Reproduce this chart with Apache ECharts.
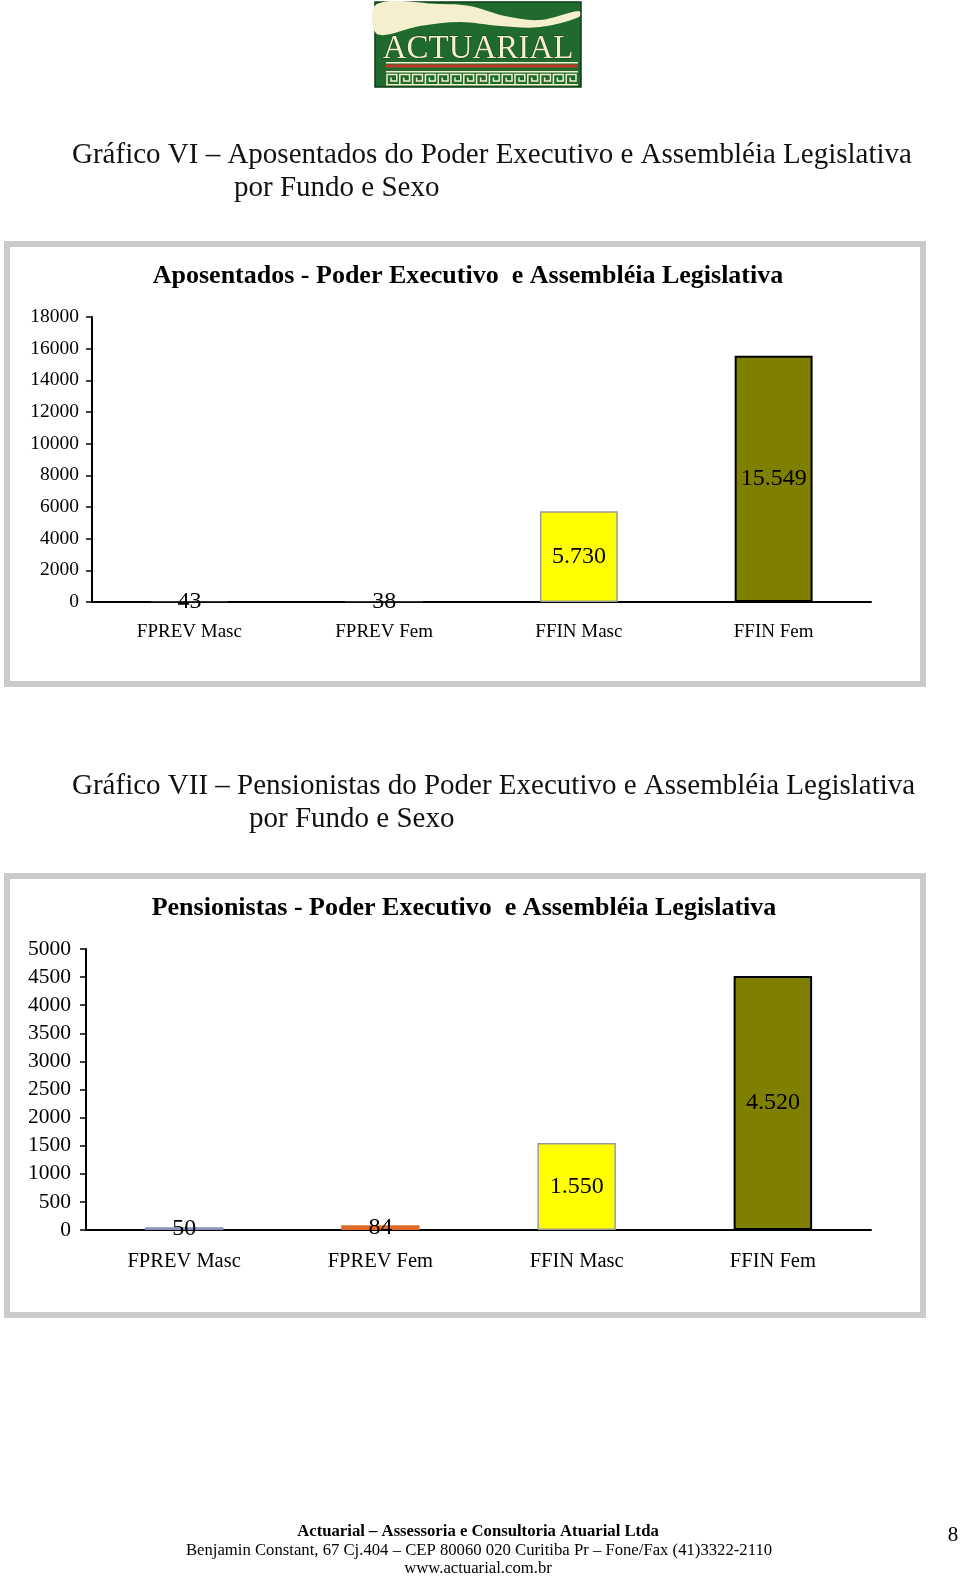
<!DOCTYPE html>
<html>
<head>
<meta charset="utf-8">
<script src="https://cdn.jsdelivr.net/npm/echarts@6/dist/echarts.min.js"></script>
<style>
html,body{margin:0;padding:0;background:#fff;}
#c{width:960px;height:1577px;}
</style>
</head>
<body>
<div id="c"></div>
<script>
// ---- data ----
const categories = ['FPREV Masc', 'FPREV Fem', 'FFIN Masc', 'FFIN Fem'];
const aposentados = [43, 38, 5730, 15549];
const pensionistas = [50, 84, 1550, 4520];
const yMax1 = 18000, yStep1 = 2000;
const yMax2 = 5000, yStep2 = 500;

// ---- styles ----
const SERIF = '"Liberation Serif", "Times New Roman", serif';
const styles1 = [
  {color: '#8a8fb8', borderColor: '#333', borderWidth: 1},
  {color: '#e06a2a', borderColor: '#333', borderWidth: 1},
  {color: '#ffff00', borderColor: '#999', borderWidth: 1.5},
  {color: '#808000', borderColor: '#000', borderWidth: 2}
];
const styles2 = [
  {color: '#8a8fb8', borderColor: '#8a8fb8', borderWidth: 0},
  {color: '#e06a2a', borderColor: '#e06a2a', borderWidth: 0},
  {color: '#ffff00', borderColor: '#999', borderWidth: 1.5},
  {color: '#808000', borderColor: '#000', borderWidth: 2}
];
const fmt = v => String(v).replace(/\B(?=(\d{3})+(?!\d))/g, '.');

function mkData(vals, st) { return vals.map((v, i) => ({value: v, itemStyle: st[i]})); }

function xAxis(gi, fs, margin) {
  return {
    type: 'category', gridIndex: gi, data: categories,
    axisLine: {lineStyle: {color: '#000', width: 2}},
    axisTick: {length: 6, lineStyle: {color: '#000', width: 2}},
    axisLabel: {fontFamily: SERIF, fontSize: fs, color: '#000', margin: margin},
    splitLine: {show: false}
  };
}
function yAxis(gi, max, step, fs, margin) {
  return {
    type: 'value', gridIndex: gi, min: 0, max: max, interval: step,
    axisLine: {show: true, lineStyle: {color: '#000', width: 2}},
    axisTick: {show: true, length: 6, lineStyle: {color: '#000', width: 1.5}},
    axisLabel: {fontFamily: SERIF, fontSize: fs, color: '#000', margin: margin, formatter: v => String(v)},
    splitLine: {show: false}
  };
}
function bar(gi, data) {
  return {
    type: 'bar', xAxisIndex: gi, yAxisIndex: gi, data: data, barWidth: '40%',
    label: {show: true, position: 'inside', fontFamily: SERIF, fontSize: 24, color: '#000',
            textBorderWidth: 0, formatter: p => fmt(p.value)},
    emphasis: {disabled: true}, animation: false
  };
}

// ---- logo decoration ----
function logo() {
  const els = [];
  els.push({type: 'rect', shape: {x: 375, y: 2, width: 206, height: 85},
            style: {fill: '#1f6a2c', stroke: '#0d3d14', lineWidth: 1.5}});
  els.push({type: 'polygon', shape: {smooth: 0.35, points: [
    [377, 4], [440, 4], [470, 6], [505, 16], [540, 20], [579, 11], [579, 17], [540, 27], [500, 26], [460, 22], [420, 26], [377, 34]]},
    style: {fill: '#f4efcc'}});
  els.push({type: 'text', style: {x: 478, y: 49, text: 'ACTUARIAL', fill: '#f4efcc', stroke: '#0d3d14', lineWidth: 1,
            font: '33px ' + SERIF, align: 'center', verticalAlign: 'middle'}});
  els.push({type: 'rect', shape: {x: 386, y: 62, width: 192, height: 1.5}, style: {fill: '#f4efcc'}});
  els.push({type: 'rect', shape: {x: 386, y: 64.5, width: 192, height: 3}, style: {fill: '#c0392b'}});
  els.push({type: 'rect', shape: {x: 386, y: 71, width: 192, height: 1.5}, style: {fill: '#f4efcc'}});
  els.push({type: 'rect', shape: {x: 386, y: 84, width: 192, height: 1.5}, style: {fill: '#f4efcc'}});
  const n = 15, w = 192 / n;
  for (let i = 0; i < n; i++) {
    const x0 = 386 + i * w;
    els.push({type: 'polyline', shape: {points: [[x0 + 1, 84], [x0 + 1, 74.5], [x0 + w - 2, 74.5], [x0 + w - 2, 81], [x0 + 5, 81], [x0 + 5, 77.5]]},
              style: {stroke: '#f4efcc', lineWidth: 1.5, fill: null}});
  }
  return els;
}

function txt(x, y, text, font, align, color) {
  return {type: 'text', style: {x: x, y: y, text: text, font: font, fill: color || '#000',
          align: align || 'left', verticalAlign: 'middle'}};
}

const graphics = [].concat(
  logo(),
  [
    txt(72, 155, 'Gráfico VI – Aposentados do Poder Executivo e Assembléia Legislativa', '29px ' + SERIF, 'left', '#111'),
    txt(234, 188, 'por Fundo e Sexo', '29px ' + SERIF, 'left', '#111'),
    {type: 'rect', shape: {x: 7, y: 244, width: 916, height: 440}, style: {fill: null, stroke: '#cbcbcb', lineWidth: 6}},
    txt(468, 276, 'Aposentados - Poder Executivo  e Assembléia Legislativa', 'bold 26px ' + SERIF, 'center'),
    txt(72, 786, 'Gráfico VII – Pensionistas do Poder Executivo e Assembléia Legislativa', '29px ' + SERIF, 'left', '#111'),
    txt(249, 819, 'por Fundo e Sexo', '29px ' + SERIF, 'left', '#111'),
    {type: 'rect', shape: {x: 7, y: 876, width: 916, height: 439}, style: {fill: null, stroke: '#cbcbcb', lineWidth: 6}},
    txt(464, 908, 'Pensionistas - Poder Executivo  e Assembléia Legislativa', 'bold 26px ' + SERIF, 'center'),
    txt(478, 1532, 'Actuarial – Assessoria e Consultoria Atuarial Ltda', 'bold 16.7px ' + SERIF, 'center'),
    txt(479, 1551, 'Benjamin Constant, 67 Cj.404 – CEP 80060 020 Curitiba Pr – Fone/Fax (41)3322-2110', '16.7px ' + SERIF, 'center'),
    txt(478, 1569, 'www.actuarial.com.br', '16.7px ' + SERIF, 'center'),
    txt(953, 1535, '8', '21px ' + SERIF, 'center')
  ]
);

const chart = echarts.init(document.getElementById('c'), null, {renderer: 'canvas'});
chart.setOption({
  backgroundColor: '#fff',
  animation: false,
  grid: [
    {left: 92, right: 89, top: 317, bottom: 1577 - 602, containLabel: false},
    {left: 86, right: 89, top: 949, bottom: 1577 - 1230, containLabel: false}
  ],
  xAxis: [xAxis(0, 19, 21), xAxis(1, 20.5, 21)],
  yAxis: [yAxis(0, yMax1, yStep1, 19.5, 13), yAxis(1, yMax2, yStep2, 21.5, 15)],
  series: [bar(0, mkData(aposentados, styles1)), bar(1, mkData(pensionistas, styles2))],
  graphic: graphics
});
</script>
</body>
</html>
